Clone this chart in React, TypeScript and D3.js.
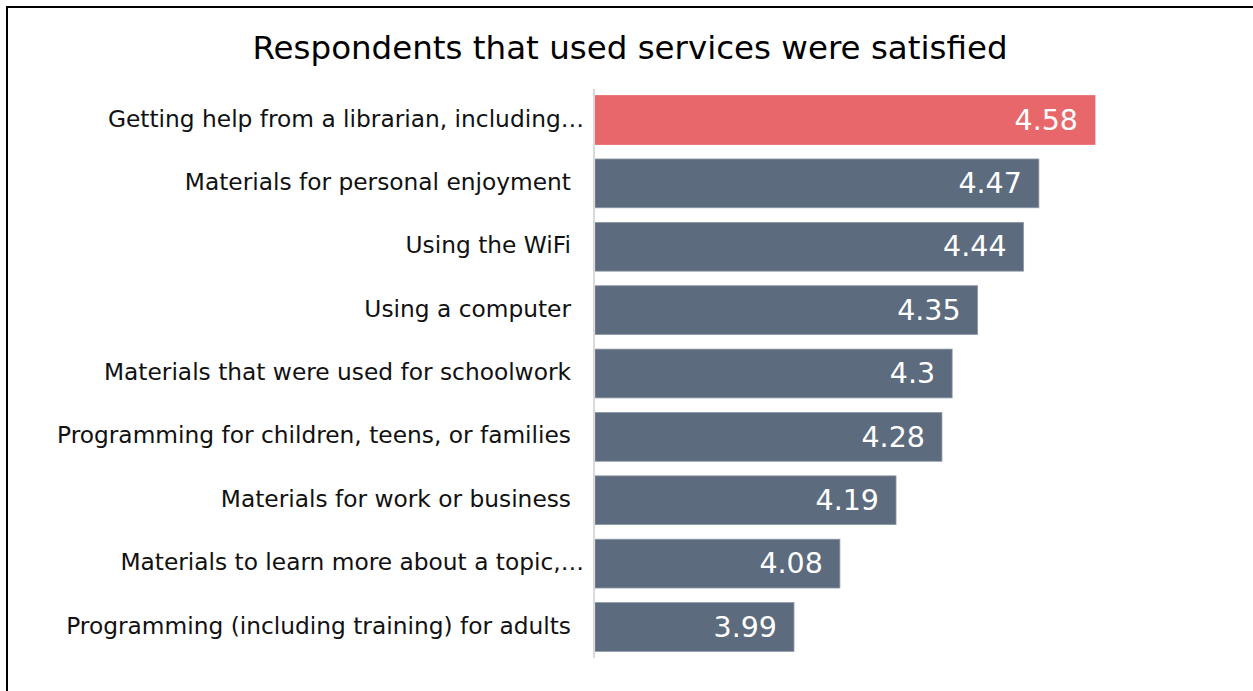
import React from "react";
import * as d3 from "d3";

const categories = [
  "Getting help from a librarian, including…",
  "Materials for personal enjoyment",
  "Using the WiFi",
  "Using a computer",
  "Materials that were used for schoolwork",
  "Programming for children, teens, or families",
  "Materials for work or business",
  "Materials to learn more about a topic,…",
  "Programming (including training) for adults",
];
const values = [4.58, 4.47, 4.44, 4.35, 4.3, 4.28, 4.19, 4.08, 3.99];
const valueLabels = ["4.58", "4.47", "4.44", "4.35", "4.3", "4.28", "4.19", "4.08", "3.99"];
const highlight = [true, false, false, false, false, false, false, false, false];
const title = "Respondents that used services were satisfied";

const FONT = "'DejaVu Sans', sans-serif";

export default function App() {
  const W = 1253, H = 691;
  const x = d3.scaleLinear().domain([3.6, 4.58]).range([595, 1095]);
  const y = d3.scaleBand().domain(categories).range([88, 659]).paddingInner(0.23).paddingOuter(0.12);
  return (
    <svg width={W} height={H} style={{ position: "absolute", left: 0, top: 0, background: "#fff" }}>
      <rect x={7} y={7} width={1300} height={700} fill="none" stroke="#000" strokeWidth={2} />
      <text x={630} y={59} textAnchor="middle" fontFamily={FONT} fontSize={32.5} fill="#000">{title}</text>
      {categories.map((c, i) => (
        <g key={c}>
          <rect x={x(3.6)} y={y(c)} width={x(values[i]) - x(3.6)} height={y.bandwidth()}
            fill={highlight[i] ? "#e8676a" : "#5d6b7e"} stroke={highlight[i] ? "#e8676a" : "#8e9aa8"} strokeWidth={0.8} />
          <text x={c.endsWith("…") ? 584 : 571} y={y(c)! + y.bandwidth() / 2} dy="0.28em" textAnchor="end"
            fontFamily={FONT} fontSize={23.3} fill="#111">{c}</text>
          <text x={x(values[i]) - 17} y={y(c)! + y.bandwidth() / 2} dy="0.34em" textAnchor="end"
            fontFamily={FONT} fontSize={28.5} fill="#fff">{valueLabels[i]}</text>
        </g>
      ))}
      <line x1={594} x2={594} y1={89} y2={658} stroke="#d9d9d9" strokeWidth={2} />
    </svg>
  );
}
